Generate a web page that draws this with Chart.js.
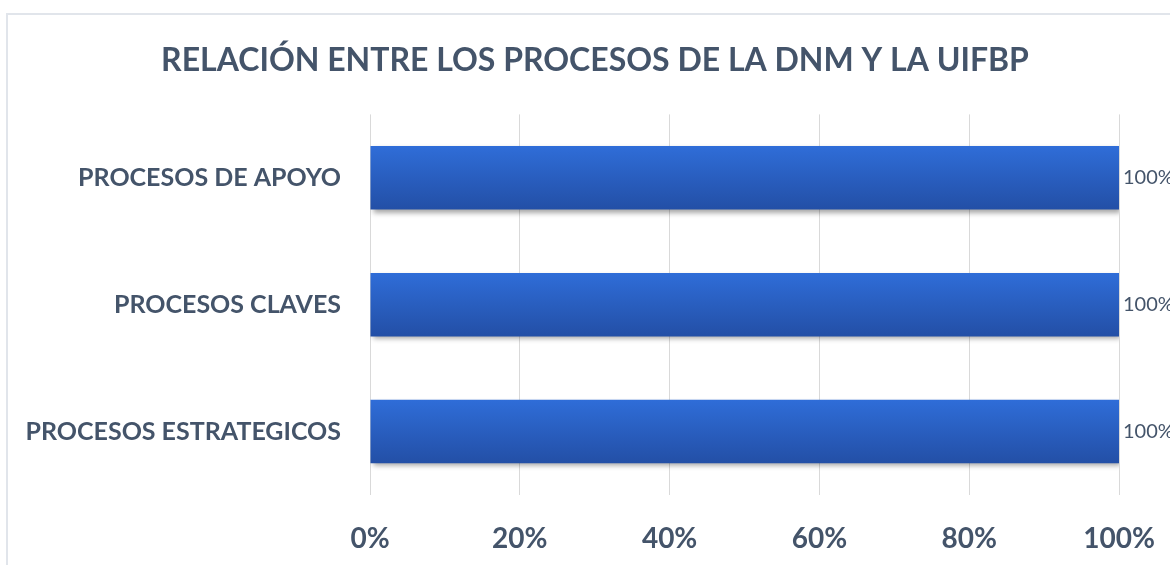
<!DOCTYPE html>
<html>
<head>
<meta charset="utf-8">
<script src="https://cdn.jsdelivr.net/npm/chart.js@4"></script>
<style>
  html, body { margin: 0; padding: 0; background: #fff; }
  #wrap { position: relative; width: 1170px; height: 565px; overflow: hidden; }
  #frame { position: absolute; left: 6px; top: 13px; width: 1300px; height: 700px; border: 2px solid #e1e5eb; }
  #chart { position: absolute; left: 0; top: 0; }
</style>
</head>
<body>
<div id="wrap">
  <div id="frame"></div>
  <canvas id="chart" width="1170" height="565"></canvas>
</div>
<script>
// categories, top to bottom
var categories = ['PROCESOS DE APOYO', 'PROCESOS CLAVES', 'PROCESOS ESTRATEGICOS'];
// percentage per process
var values = [100, 100, 100];
var xTicks = [0, 20, 40, 60, 80, 100];

var textColor = '#44546A';
var fontFamily = 'Lato, "Open Sans", sans-serif';

// vertical gradient per bar, built from the y scale
function barGradient(ctx) {
    var chart = ctx.chart;
    var yScale = chart.scales.y;
    var area = chart.chartArea;
    if (!area || !yScale) return '#2A5FC4';
    var center = yScale.getPixelForValue(ctx.dataIndex);
    var h = (area.bottom - area.top) / categories.length * 0.5;
    var g = chart.ctx.createLinearGradient(0, center - h / 2, 0, center + h / 2);
    g.addColorStop(0, '#2F6DD8');
    g.addColorStop(1, '#234FA6');
    return g;
}

const shadowPlugin = {
    id: 'barShadow',
    beforeDatasetDraw(chart) {
        var c = chart.ctx;
        c.save();
        c.shadowColor = 'rgba(0,0,0,0.35)';
        c.shadowBlur = 5;
        c.shadowOffsetX = 2;
        c.shadowOffsetY = 3;
    },
    afterDatasetDraw(chart) {
        chart.ctx.restore();
    }
};

//NOTE: draws the "100%" value next to each bar end
const valueLabels = {
    id: 'valueLabels',
    afterDatasetsDraw(chart) {
        var c = chart.ctx;
        c.save();
        c.font = '20px ' + fontFamily;
        c.fillStyle = textColor;
        c.textBaseline = 'middle';
        c.textAlign = 'left';
        chart.getDatasetMeta(0).data.forEach((bar, i) => {
            c.fillText(values[i] + '%', bar.x + 4, bar.y);
        });
        c.restore();
    }
};

var barCanvas = document.getElementById('chart').getContext('2d');
var barChart = new Chart(barCanvas, {
    type: 'bar',
    data: {
        labels: categories,
        datasets: [{
            data: values,
            backgroundColor: barGradient,
            borderWidth: 0,
            categoryPercentage: 0.5,
            barPercentage: 1
        }]
    },
    options: {
        indexAxis: 'y',
        responsive: false,
        animation: false,
        layout: { padding: { left: 20, right: 0, top: 0, bottom: 0 } },
        plugins: {
            legend: { display: false },
            tooltip: { enabled: false },
            title: {
                display: true,
                text: 'RELACIÓN ENTRE LOS PROCESOS DE LA DNM Y LA UIFBP',
                color: textColor,
                font: { family: fontFamily, size: 32, weight: 'bold', lineHeight: 1.2 },
                padding: { top: 41, bottom: 35 }
            }
        },
        scales: {
            x: {
                min: 0,
                max: 100,
                afterBuildTicks: (scale) => { scale.ticks = xTicks.map(v => ({ value: v })); },
                afterFit: (scale) => {
                    scale.height = 70;
                    scale.paddingLeft = 0;
                    scale.paddingRight = 51;
                },
                grid: { color: '#D9D9D9', drawTicks: false },
                border: { display: false },
                ticks: {
                    padding: 27,
                    color: textColor,
                    font: { family: fontFamily, size: 28, weight: 'bold' },
                    callback: (v) => v + '%'
                }
            },
            y: {
                afterFit: (scale) => { scale.width = 350; },
                grid: { display: false, drawTicks: false },
                border: { display: false },
                ticks: {
                    padding: 29,
                    color: textColor,
                    font: { family: fontFamily, size: 25, weight: 'bold' }
                }
            }
        }
    },
    plugins: [shadowPlugin, valueLabels]
});
</script>
</body>
</html>
